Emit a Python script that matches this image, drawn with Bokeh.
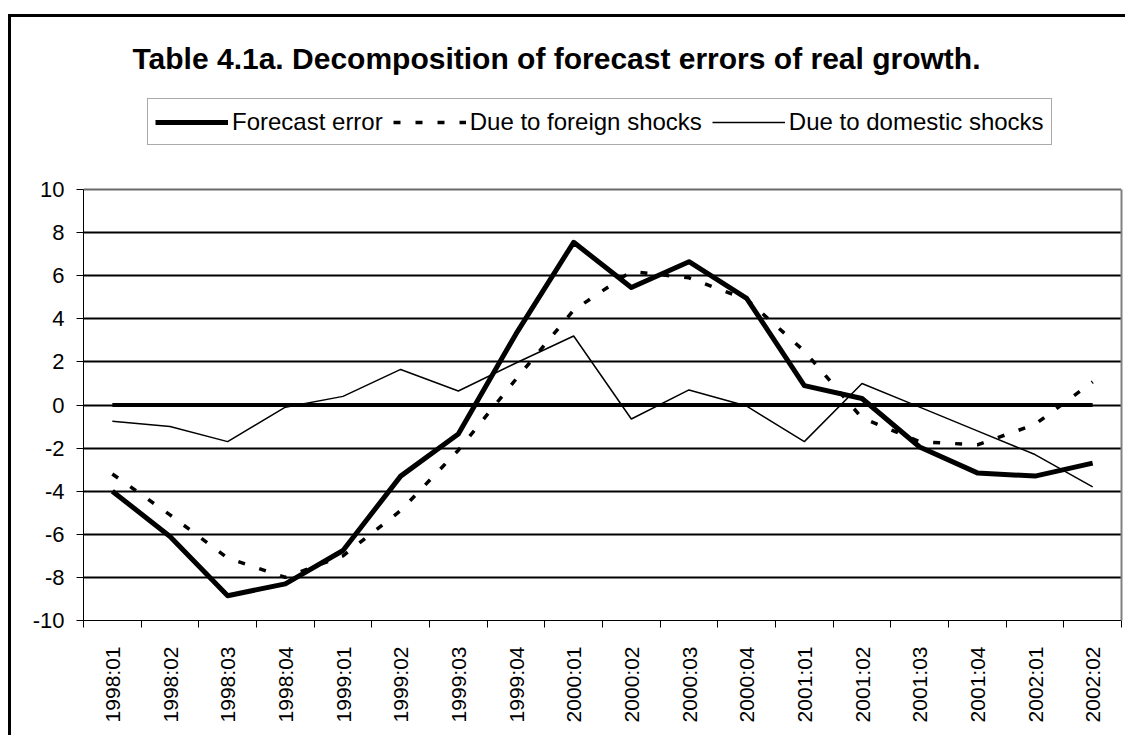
import numpy as np
from bokeh.plotting import figure
from bokeh.models import (ColumnDataSource, FixedTicker, Label, Legend, LegendItem,
                          Range1d, LinearAxis)
from bokeh.embed import file_html
from bokeh.resources import INLINE

# ---- data ----
categories = ["1998:01", "1998:02", "1998:03", "1998:04",
              "1999:01", "1999:02", "1999:03", "1999:04",
              "2000:01", "2000:02", "2000:03", "2000:04",
              "2001:01", "2001:02", "2001:03", "2001:04",
              "2002:01", "2002:02"]
forecast_error = [-4.0, -6.1, -8.85, -8.3, -6.75, -3.3, -1.35, 3.3, 7.55,
                  5.45, 6.65, 4.95, 0.9, 0.3, -1.95, -3.15, -3.3, -2.7]
foreign_shocks = [-3.2, -5.1, -7.1, -8.0, -7.0, -4.9, -2.1, 1.2, 4.4,
                  6.2, 5.9, 4.9, 2.5, -0.6, -1.7, -1.85, -0.9, 1.07]
domestic_shocks = [-0.75, -1.0, -1.7, -0.1, 0.4, 1.65, 0.65, 1.95, 3.2,
                   -0.65, 0.7, -0.05, -1.7, 1.0, -0.1, -1.2, -2.3, -3.8]
zero_line = [0.0] * len(categories)
y_ticks = list(range(-10, 11, 2))
y_tick_labels = [str(v) for v in y_ticks]

FONT = "Liberation Sans"

# layout constants (pixels)
FRAME_H_DATA = 431.0            # height of the -10..10 band
EXTRA_TOP = 172.0               # room above the band for title and legend
y_top = 10 + EXTRA_TOP * 20.0 / FRAME_H_DATA

xs = np.arange(1, len(categories) + 1)
src = ColumnDataSource(dict(x=xs, fe=forecast_error, fo=foreign_shocks,
                            do=domestic_shocks, z=zero_line))

p = figure(width=1117, height=721, output_backend="svg", toolbar_location=None,
           x_range=Range1d(0.5, len(categories) + 0.5), y_range=Range1d(-10, y_top),
           min_border_left=72, min_border_right=7, min_border_top=0,
           min_border_bottom=118)
p.styles = {"margin-top": "14px", "margin-left": "8px",
            "border-left": "3px solid black", "border-top": "3px solid black"}
p.background_fill_color = "white"
p.border_fill_color = "white"
p.outline_line_color = None

# grid
p.xgrid.visible = False
p.ygrid.ticker = FixedTicker(ticks=y_ticks[:-1])
p.ygrid.grid_line_color = "black"
p.ygrid.grid_line_width = 2

# y axis
p.yaxis.ticker = FixedTicker(ticks=y_ticks)
p.yaxis.bounds = (-10, 10)
p.yaxis.major_label_overrides = {v: s for v, s in zip(y_ticks, y_tick_labels)}
p.yaxis.major_tick_in = 0
p.yaxis.major_tick_out = 7
p.yaxis.minor_tick_line_color = None
p.yaxis.axis_line_color = "black"
p.yaxis.major_label_text_font = FONT
p.yaxis.major_label_text_font_size = "22px"
p.yaxis.major_label_text_color = "black"
p.yaxis.major_label_standoff = 12

# right border of the plot area
right_axis = LinearAxis(ticker=FixedTicker(ticks=[]), bounds=(-10, 10),
                        axis_line_color="#808080", axis_line_width=2,
                        major_tick_line_color=None, minor_tick_line_color=None,
                        major_label_text_font_size="0px")
p.add_layout(right_axis, "right")

# x axis
p.xaxis.ticker = FixedTicker(ticks=list(xs),
                             minor_ticks=list(np.arange(0.5, len(categories) + 1, 1.0)))
p.xaxis.major_label_overrides = {int(x): c for x, c in zip(xs, categories)}
p.xaxis.major_tick_line_color = None
p.xaxis.major_tick_in = 0
p.xaxis.major_tick_out = 0
p.xaxis.minor_tick_line_color = "black"
p.xaxis.minor_tick_in = 0
p.xaxis.minor_tick_out = 7
p.xaxis.axis_line_color = "black"
p.xaxis.major_label_orientation = np.pi / 2
p.xaxis.major_label_text_font = FONT
p.xaxis.major_label_text_font_size = "21px"
p.xaxis.major_label_text_color = "black"
p.xaxis.major_label_standoff = 19

# top band line at y = 10 (grey)
p.line(x=[0.5, len(categories) + 0.5], y=[y_ticks[-1], y_ticks[-1]],
       line_color="#6a6a6a", line_width=2)

# lines
p.line("x", "z", source=src, line_color="black", line_width=4)
r_fe = p.line("x", "fe", source=src, line_color="black", line_width=5, line_join="round")
r_fo = p.line("x", "fo", source=src, line_color="black", line_width=3.5, line_dash="7 15")
r_do = p.line("x", "do", source=src, line_color="black", line_width=1.5)

legend = Legend(items=[LegendItem(label="Forecast error", renderers=[r_fe]),
                       LegendItem(label="Due to foreign shocks", renderers=[r_fo]),
                       LegendItem(label="Due to domestic shocks", renderers=[r_do])],
                orientation="horizontal", location=(64, 475),
                glyph_width=73, glyph_height=20, label_height=31,
                label_standoff=4, spacing=10, padding=7, margin=0,
                label_text_font=FONT, label_text_font_size="24px",
                label_text_color="black",
                border_line_color="#555555", border_line_width=1,
                background_fill_color="white", background_fill_alpha=1)
p.add_layout(legend)

title = Label(x=473, y=562, x_units="screen", y_units="screen",
              text="Table 4.1a. Decomposition of forecast errors of real growth.",
              text_font=FONT, text_font_size="30px", text_font_style="bold",
              text_align="center", text_baseline="middle", text_color="black")
p.add_layout(title)

open("out.html", "w").write(file_html(p, INLINE))
